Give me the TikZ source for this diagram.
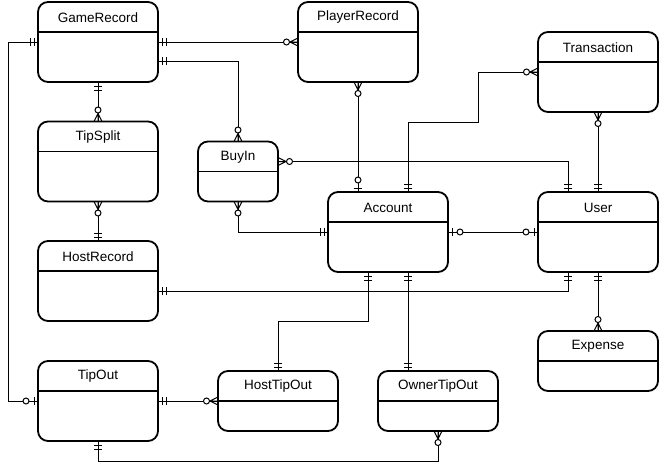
\documentclass[tikz,border=0pt]{standalone}
\usepackage{fontspec}
\setmainfont{Liberation Sans}
\usetikzlibrary{calc}
\begin{document}
\begin{tikzpicture}[x=1pt,y=1pt,
  entity/.style n args={3}{draw, line width=1.8pt, rounded corners=10pt, outer sep=0pt,
    minimum width=#2, minimum height=#3, inner sep=0pt,
    label={[anchor=center, yshift=-15.5pt, font=\fontsize{13.5}{16}\selectfont]north:#1}},
  divider/.style={line width=1.8pt},
  conn/.style={line width=1pt},
  mone/.pic={\draw[line width=1pt] (4,-4)--(4,4) (8,-4)--(8,4);},
  zmany/.pic={\draw[line width=1pt] (0,4)--(8,0)--(0,-4) (0,0)--(8,0); \draw[line width=1pt, fill=white] (11.5,0) circle (3);},
  zone/.pic={\draw[line width=1pt] (4,-4)--(4,4); \draw[line width=1pt, fill=white] (12,0) circle (3);}
]
\useasboundingbox (0,0) rectangle (660,-471);

\node[entity={GameRecord}{120pt}{80pt}] (gr) at (98,-42) {};
\node[entity={PlayerRecord}{120pt}{80pt}] (pr) at (358,-42) {};
\node[entity={TipSplit}{120pt}{80pt}] (ts) at (98,-161.5) {};
\node[entity={HostRecord}{120pt}{80pt}] (hr) at (98,-281) {};
\node[entity={TipOut}{120pt}{80pt}] (to) at (98,-401) {};
\node[entity={HostTipOut}{120pt}{60pt}] (ht) at (278,-401) {};
\node[entity={OwnerTipOut}{120pt}{60pt}] (ot) at (438,-401) {};
\node[entity={Expense}{120pt}{60pt}] (ex) at (598,-361) {};
\node[entity={Transaction}{120pt}{80pt}] (tr) at (598,-72) {};
\node[entity={Account}{120pt}{80pt}] (ac) at (388,-232) {};
\node[entity={User}{120pt}{80pt}] (us) at (598,-232) {};
\node[entity={BuyIn}{80pt}{60pt}] (bi) at (238,-171.5) {};

\foreach \n in {gr,pr,ts,hr,to,ht,ot,ex,tr,ac,us,bi}
  \draw[divider] ([yshift=-30pt]\n.north west) -- ([yshift=-30pt]\n.north east);

% connectors
\draw[conn] (gr.west) -- ++(-30,0) |- (to.west);
\pic[rotate=180] at (gr.west) {mone};
\pic[rotate=180] at (to.west) {zone};

\draw[conn] (gr.east) -- (pr.west);
\pic at (gr.east) {mone};
\pic[rotate=180] at (pr.west) {zmany};

\draw[conn] ([yshift=-19pt]gr.east) -| (bi.north);
\pic at ([yshift=-19pt]gr.east) {mone};
\pic[rotate=90] at (bi.north) {zmany};

\draw[conn] (gr.south) -- (ts.north);
\pic[rotate=270] at (gr.south) {mone};
\pic[rotate=90] at (ts.north) {zmany};

\draw[conn] (ts.south) -- (hr.north);
\pic[rotate=270] at (ts.south) {zmany};
\pic[rotate=90] at (hr.north) {mone};

\draw[conn] ([yshift=-10pt]hr.east) -| ([xshift=-30pt]us.south);
\pic at ([yshift=-10pt]hr.east) {mone};
\pic[rotate=270] at ([xshift=-30pt]us.south) {mone};

\draw[conn] (pr.south) -- ([xshift=-30pt]ac.north);
\pic[rotate=270] at (pr.south) {zmany};
\pic[rotate=90] at ([xshift=-30pt]ac.north) {zone};

\draw[conn] (tr.west) -- ++(-60,0) -- ++(0,-50) -| ([xshift=20pt]ac.north);
\pic[rotate=180] at (tr.west) {zmany};
\pic[rotate=90] at ([xshift=20pt]ac.north) {mone};

\draw[conn] (tr.south) -- (us.north);
\pic[rotate=270] at (tr.south) {zmany};
\pic[rotate=90] at (us.north) {mone};

\draw[conn] ([yshift=10pt]bi.east) -| ([xshift=-30pt]us.north);
\pic at ([yshift=10pt]bi.east) {zmany};
\pic[rotate=90] at ([xshift=-30pt]us.north) {mone};

\draw[conn] (bi.south) |- (ac.west);
\pic[rotate=270] at (bi.south) {zmany};
\pic[rotate=180] at (ac.west) {mone};

\draw[conn] (ac.east) -- (us.west);
\pic at (ac.east) {zone};
\pic[rotate=180] at (us.west) {zone};

\draw[conn] ([xshift=-20pt]ac.south) -- ++(0,-49) -| (ht.north);
\pic[rotate=270] at ([xshift=-20pt]ac.south) {mone};
\pic[rotate=90] at (ht.north) {mone};

\draw[conn] ([xshift=20pt]ac.south) -- ([xshift=-30pt]ot.north);
\pic[rotate=270] at ([xshift=20pt]ac.south) {mone};
\pic[rotate=90] at ([xshift=-30pt]ot.north) {mone};

\draw[conn] (us.south) -- (ex.north);
\pic[rotate=270] at (us.south) {mone};
\pic[rotate=90] at (ex.north) {zmany};

\draw[conn] (to.east) -- (ht.west);
\pic at (to.east) {mone};
\pic[rotate=180] at (ht.west) {zmany};

\draw[conn] (to.south) -- ++(0,-20) -| (ot.south);
\pic[rotate=270] at (to.south) {mone};
\pic[rotate=270] at (ot.south) {zmany};
\end{tikzpicture}
\end{document}
